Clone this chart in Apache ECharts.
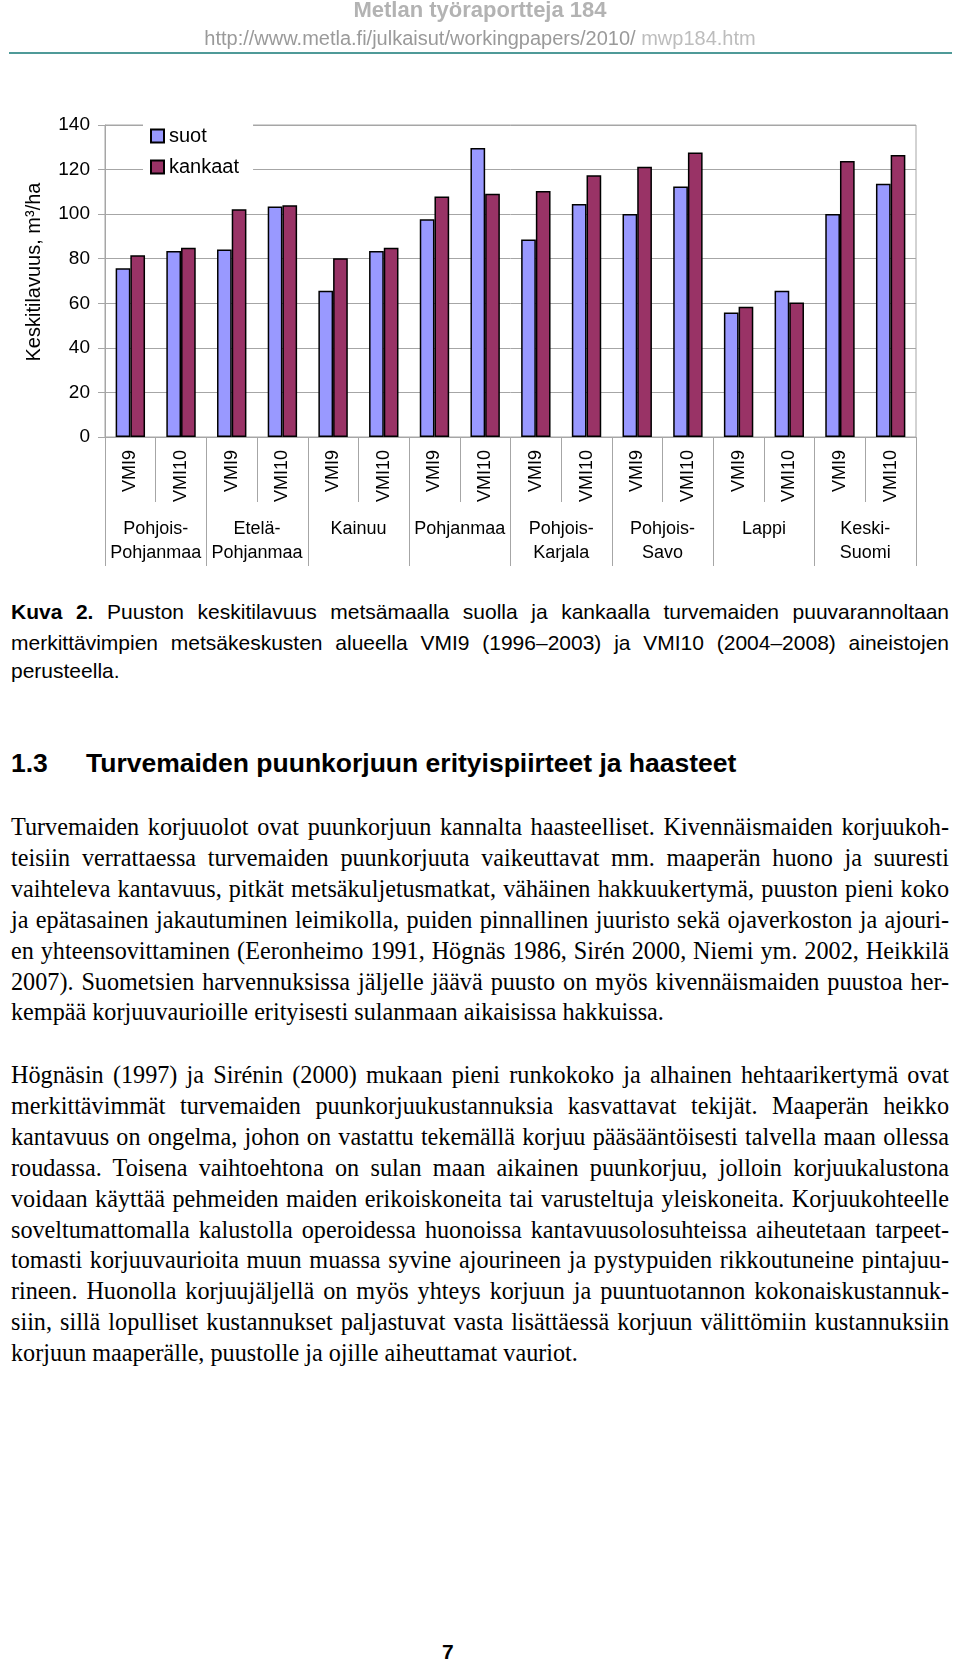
<!DOCTYPE html>
<html>
<head>
<meta charset="utf-8">
<script src="https://cdn.jsdelivr.net/npm/echarts@6/dist/echarts.min.js"></script>
<style>
  html, body { margin: 0; padding: 0; background: #fff; }
  body { position: relative; width: 960px; height: 1663px; overflow: hidden; }
  #chart { position: absolute; left: 0; top: 0; width: 960px; height: 600px; z-index: 1; }
  .hdr { position: absolute; left: 0; width: 960px; text-align: center; font-family: "Liberation Sans", Arial, sans-serif; white-space: nowrap; z-index: 2; }
  .ln { position: absolute; left: 11px; width: 938px; white-space: normal; text-align: justify; text-align-last: justify; overflow: visible; }
  .last { text-align-last: left; }
  .cap { font-family: "Liberation Sans", Arial, sans-serif; font-size: 21px; height: 30px; line-height: 30px; }
  .txt { font-family: "Liberation Serif", "Times New Roman", serif; font-size: 24.2px; height: 31px; line-height: 31px; }
</style>
</head>
<body>
<div class="hdr" style="top:-4px; font-size:22px; font-weight:bold; color:#b3b3b3; line-height:28px;">Metlan työraportteja 184</div>
<div class="hdr" style="top:25px; font-size:20px; color:#9a9a9a; line-height:26px;">http://www.metla.fi/julkaisut/workingpapers/2010/ <span style="color:#bdbdbd">mwp184.htm</span></div>
<div style="position:absolute; left:9px; top:52px; width:943px; height:2px; background:#4f9a98; z-index:2;"></div>

<div id="chart"></div>

<div class="ln cap" style="top:597px;"><b>Kuva 2.</b> Puuston keskitilavuus metsämaalla suolla ja kankaalla turvemaiden puuvarannoltaan</div>
<div class="ln cap" style="top:628px;">merkittävimpien metsäkeskusten alueella VMI9 (1996–2003) ja VMI10 (2004–2008) aineistojen</div>
<div class="ln cap last" style="top:656px;">perusteella.</div>

<div style="position:absolute; left:11px; top:747px; font-family:'Liberation Sans', Arial, sans-serif; font-weight:bold; font-size:26.5px; line-height:32px; white-space:nowrap;">1.3</div>
<div style="position:absolute; left:86px; top:747px; font-family:'Liberation Sans', Arial, sans-serif; font-weight:bold; font-size:26.5px; line-height:32px; white-space:nowrap;">Turvemaiden puunkorjuun erityispiirteet ja haasteet</div>

<div id="body"></div>

<div style="position:absolute; left:442px; top:1640px; font-family:'Liberation Sans', Arial, sans-serif; font-weight:bold; font-size:21px; line-height:24px;">7</div>

<script>
// ---- chart data ----
var surveyLabels = ['VMI9','VMI10','VMI9','VMI10','VMI9','VMI10','VMI9','VMI10','VMI9','VMI10','VMI9','VMI10','VMI9','VMI10','VMI9','VMI10'];
var regions = ['Pohjois-\nPohjanmaa','Etelä-\nPohjanmaa','Kainuu','Pohjanmaa','Pohjois-\nKarjala','Pohjois-\nSavo','Lappi','Keski-\nSuomi'];
var suot    = [75.7, 83.5, 84.1, 103.4, 65.6, 83.5, 97.7, 129.7, 88.6, 104.6, 100.1, 112.4, 55.9, 65.6, 100.1, 113.6];
var kankaat = [81.6, 84.9, 102.2, 104.0, 80.2, 84.9, 107.9, 109.1, 110.4, 117.4, 121.3, 127.7, 58.4, 60.4, 123.9, 126.5];
var yTicks = { min: 0, max: 140, interval: 20 };

// ---- text content ----
var para1 = [
  'Turvemaiden korjuuolot ovat puunkorjuun kannalta haasteelliset. Kivennäismaiden korjuukoh-',
  'teisiin verrattaessa turvemaiden puunkorjuuta vaikeuttavat mm. maaperän huono ja suuresti',
  'vaihteleva kantavuus, pitkät metsäkuljetusmatkat, vähäinen hakkuukertymä, puuston pieni koko',
  'ja epätasainen jakautuminen leimikolla, puiden pinnallinen juuristo sekä ojaverkoston ja ajouri-',
  'en yhteensovittaminen (Eeronheimo 1991, Högnäs 1986, Sirén 2000, Niemi ym. 2002, Heikkilä',
  '2007). Suometsien harvennuksissa jäljelle jäävä puusto on myös kivennäismaiden puustoa her-',
  'kempää korjuuvaurioille erityisesti sulanmaan aikaisissa hakkuissa.'
];
var para2 = [
  'Högnäsin (1997) ja Sirénin (2000) mukaan pieni runkokoko ja alhainen hehtaarikertymä ovat',
  'merkittävimmät turvemaiden puunkorjuukustannuksia kasvattavat tekijät. Maaperän heikko',
  'kantavuus on ongelma, johon on vastattu tekemällä korjuu pääsääntöisesti talvella maan ollessa',
  'roudassa. Toisena vaihtoehtona on sulan maan aikainen puunkorjuu, jolloin korjuukalustona',
  'voidaan käyttää pehmeiden maiden erikoiskoneita tai varusteltuja yleiskoneita. Korjuukohteelle',
  'soveltumattomalla kalustolla operoidessa huonoissa kantavuusolosuhteissa aiheutetaan tarpeet-',
  'tomasti korjuuvaurioita muun muassa syvine ajourineen ja pystypuiden rikkoutuneine pintajuu-',
  'rineen. Huonolla korjuujäljellä on myös yhteys korjuun ja puuntuotannon kokonaiskustannuk-',
  'siin, sillä lopulliset kustannukset paljastuvat vasta lisättäessä korjuun välittömiin kustannuksiin',
  'korjuun maaperälle, puustolle ja ojille aiheuttamat vauriot.'
];

(function () {
  var host = document.getElementById('body');
  function addPara(lines, top) {
    lines.forEach(function (t, i) {
      var d = document.createElement('div');
      d.className = 'ln txt' + (i === lines.length - 1 ? ' last' : '');
      d.style.top = (top + i * 30.9) + 'px';
      d.textContent = t;
      host.appendChild(d);
    });
  }
  addPara(para1, 811);
  addPara(para2, 1059);
})();

var chart = echarts.init(document.getElementById('chart'), null, { renderer: 'canvas' });
var F = 'Liberation Sans, Arial, sans-serif';
var gray = '#a6a6a6';
chart.setOption({
  animation: false,
  backgroundColor: 'transparent',
  textStyle: { fontFamily: F, color: '#000' },
  grid: { left: 105, right: 44, top: 125, bottom: 163, show: true, borderColor: gray, borderWidth: 1, containLabel: false },
  legend: {
    orient: 'vertical', left: 143, top: 118,
    backgroundColor: '#fff',
    padding: [8, 14, 8, 7],
    itemWidth: 13, itemHeight: 13, itemGap: 11,
    icon: 'rect',
    textStyle: { fontFamily: F, fontSize: 20, color: '#000' },
    data: ['suot', 'kankaat']
  },
  xAxis: [
    {
      type: 'category', data: surveyLabels, position: 'bottom',
      axisLine: { lineStyle: { color: gray, width: 1 } },
      axisTick: { show: true, interval: 0, length: 65, lineStyle: { color: gray } },
      axisLabel: { interval: 0, rotate: 90, margin: 13, fontFamily: F, fontSize: 18, color: '#000' }
    },
    {
      type: 'category', data: regions, position: 'bottom',
      axisLine: { show: false },
      axisTick: { show: true, interval: 0, length: 129, lineStyle: { color: gray } },
      axisLabel: { interval: 0, margin: 80, fontFamily: F, fontSize: 18, lineHeight: 24, color: '#000' }
    }
  ],
  yAxis: {
    type: 'value', min: yTicks.min, max: yTicks.max, interval: yTicks.interval,
    name: 'Keskitilavuus, m³/ha', nameLocation: 'middle', nameRotate: 90, nameGap: 61,
    nameTextStyle: { fontFamily: F, fontSize: 20, color: '#000', padding: [0, 0, 0, 18] },
    axisLine: { show: true, lineStyle: { color: gray } },
    axisTick: { show: true, inside: false, length: 7, lineStyle: { color: gray } },
    axisLabel: { margin: 15, fontFamily: F, fontSize: 19, color: '#000' },
    splitLine: { show: true, lineStyle: { color: gray, width: 1 } }
  },
  series: [
    {
      name: 'suot', type: 'bar', xAxisIndex: 0, data: suot,
      barGap: '0%', barCategoryGap: '42%',
      itemStyle: { color: '#9999FF', borderColor: '#000', borderWidth: 1.5 }
    },
    {
      name: 'kankaat', type: 'bar', xAxisIndex: 0, data: kankaat,
      barGap: '0%', barCategoryGap: '42%',
      itemStyle: { color: '#993366', borderColor: '#000', borderWidth: 1.5 }
    }
  ]
});
</script>
</body>
</html>
